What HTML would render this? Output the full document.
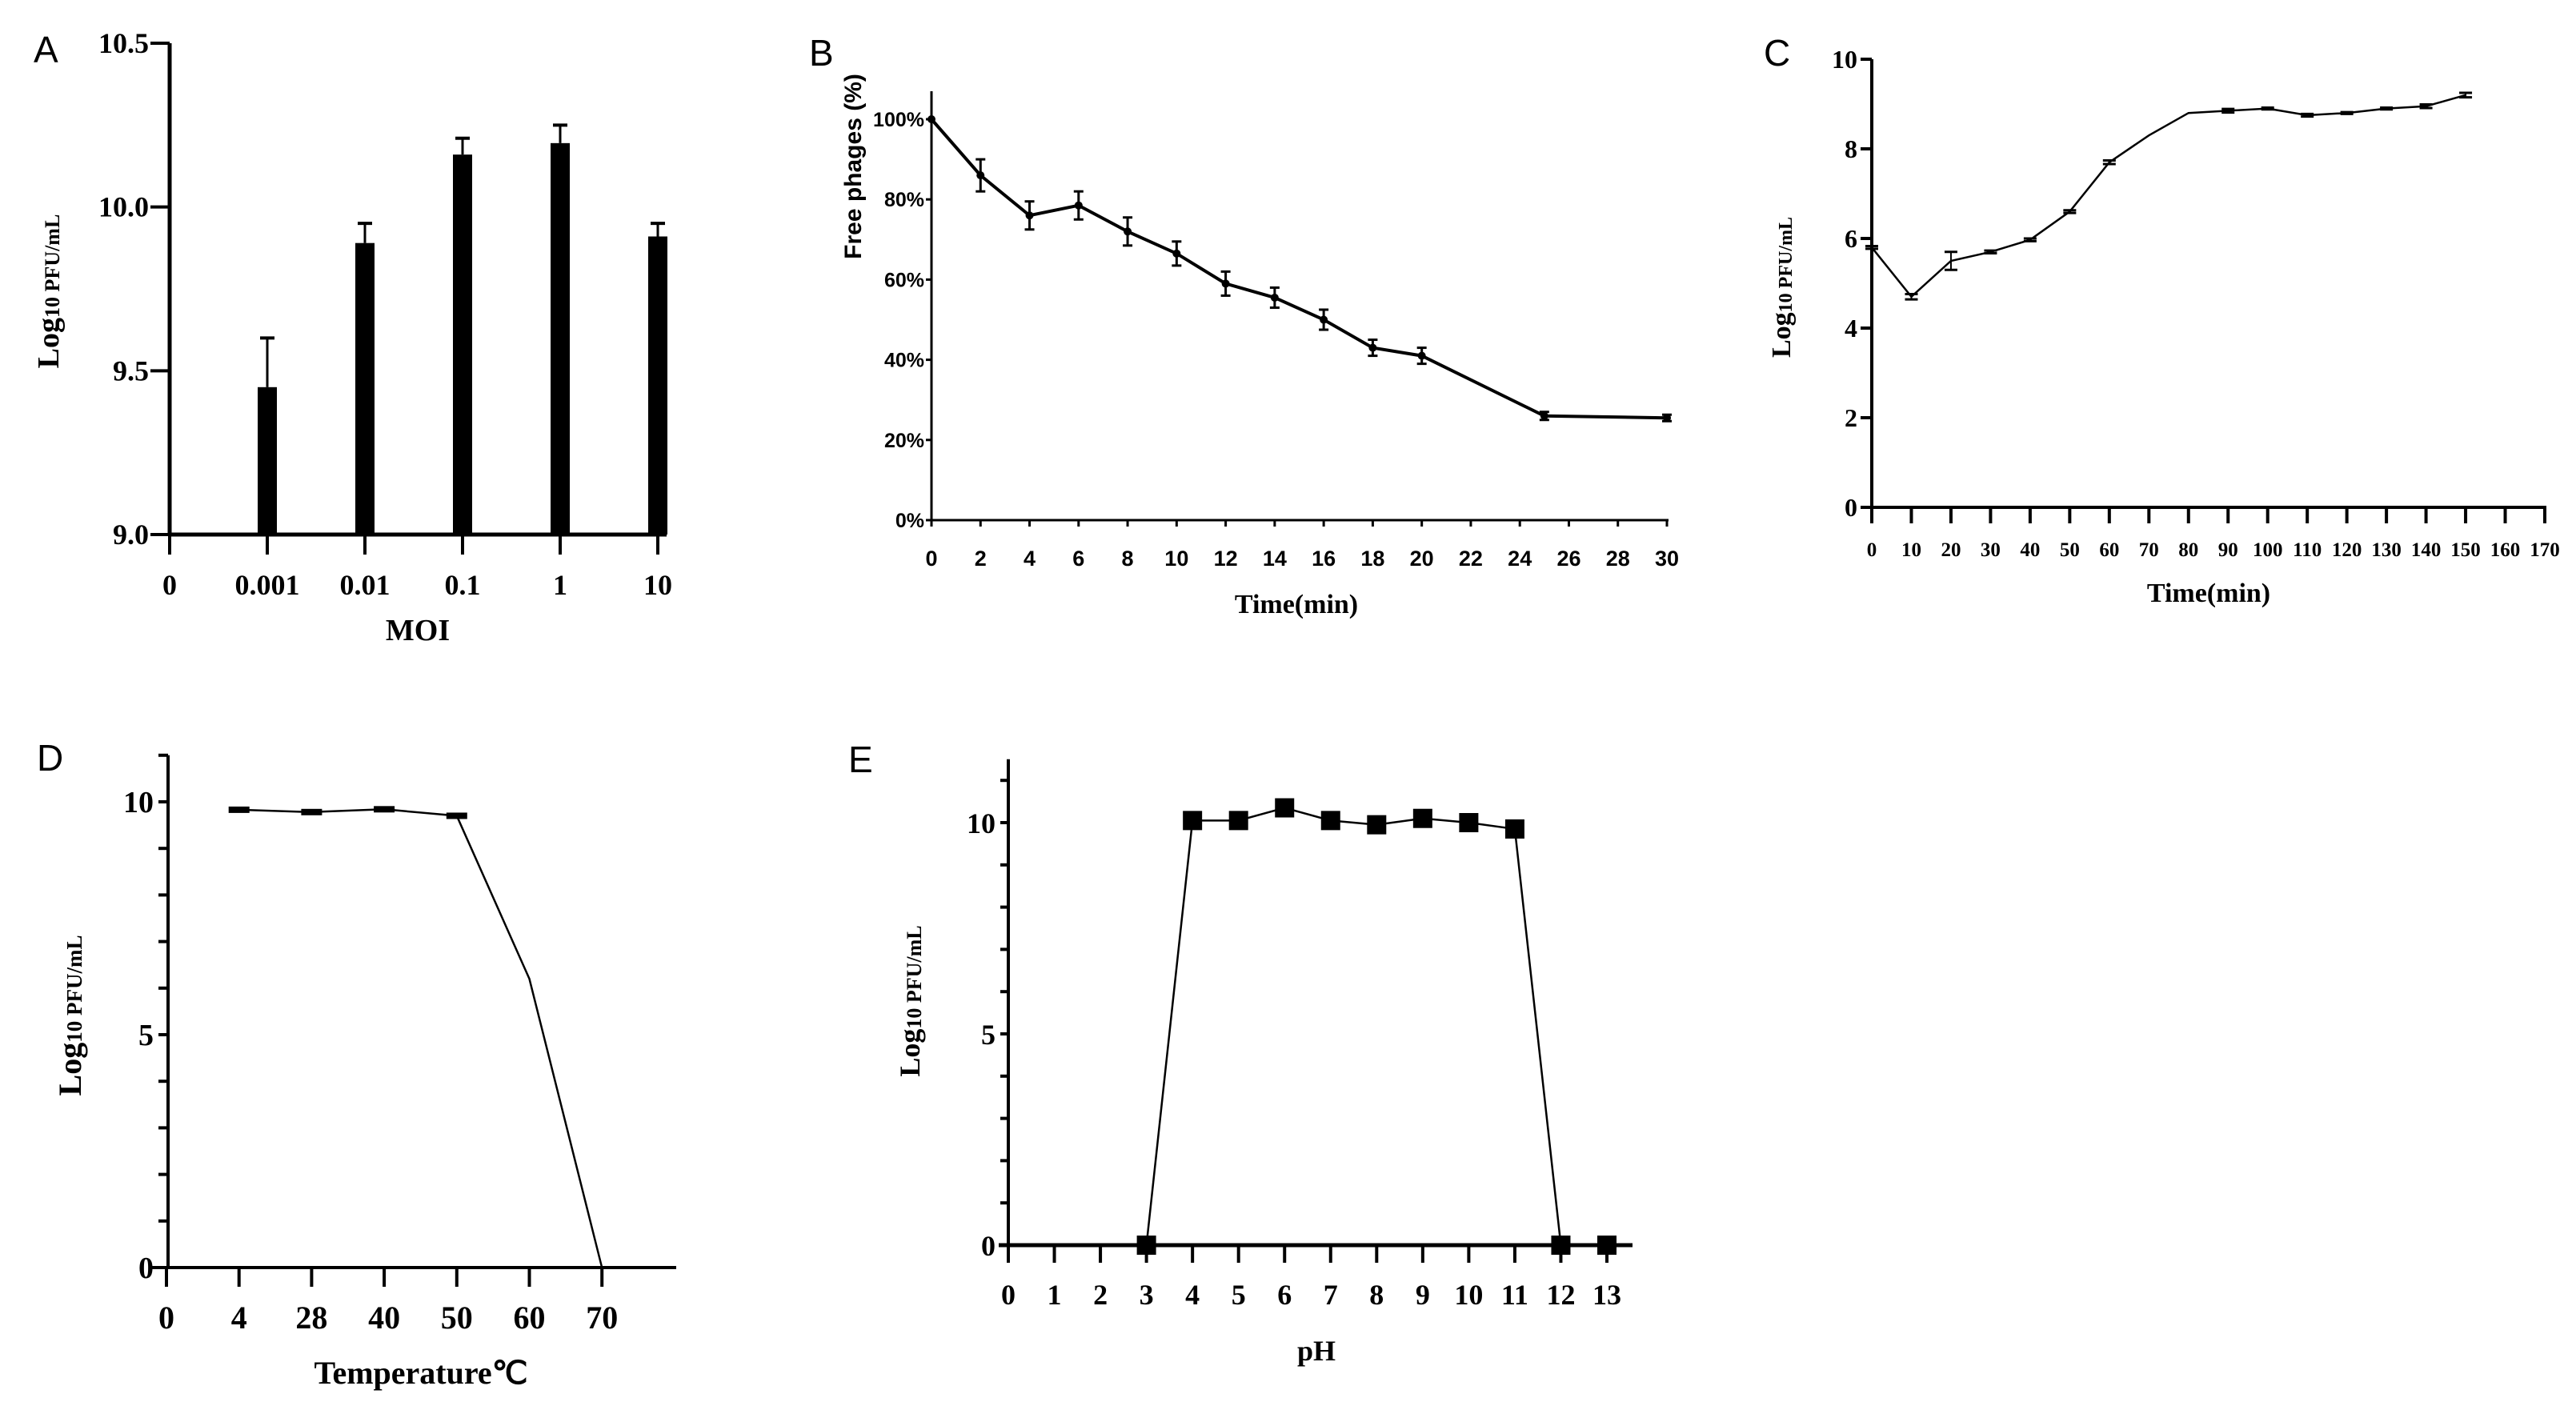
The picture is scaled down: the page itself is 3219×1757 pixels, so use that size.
<!DOCTYPE html>
<html><head><meta charset="utf-8"><style>
html,body{margin:0;padding:0;background:#fff;}
svg{display:block;}
text{font-family:"Liberation Serif",serif;font-weight:bold;fill:#000;}
.pl{font-family:"Liberation Sans",sans-serif;font-weight:normal;font-size:46px;}
.sans{font-family:"Liberation Sans",sans-serif;}
</style></head><body>
<svg id="fig" xmlns="http://www.w3.org/2000/svg" width="3219" height="1757" viewBox="0 0 3219 1757">
<text class="pl" x="42" y="78">A</text>
<text class="pl" x="1011" y="82">B</text>
<text class="pl" x="2204" y="82">C</text>
<text class="pl" x="46" y="963">D</text>
<text class="pl" x="1060" y="965">E</text>
</svg>
<script>
// ---- Panel A data
const moiCats = ["0","0.001","0.01","0.1","1","10"];
const moiVals = [null,9.45,9.89,10.16,10.195,9.91];
const moiErr = [null,0.15,0.06,0.05,0.055,0.04];
const moiTicks = [9.0,9.5,10.0,10.5];
// ---- Panel B data
const adsTime = [0,2,4,6,8,10,12,14,16,18,20,25,30];
const adsVals = [100,86,76,78.5,72,66.5,59,55.5,50,43,41,26,25.5];
const adsErr = [0,4,3.5,3.5,3.5,3,3,2.5,2.5,2,2,1,0.8];
const adsYTicks = [0,20,40,60,80,100];
const adsXTicks = [0,2,4,6,8,10,12,14,16,18,20,22,24,26,28,30];
// ---- Panel C data
const growTime = [0,10,20,30,40,50,60,70,80,90,100,110,120,130,140,150];
const growVals = [5.8,4.7,5.5,5.7,5.97,6.6,7.7,8.3,8.8,8.85,8.9,8.75,8.8,8.9,8.95,9.2];
const growErr = [0.03,0.06,0.2,0.03,0.03,0.03,0.04,0,0,0.04,0.02,0.03,0.02,0.02,0.04,0.05];
const growYTicks = [0,2,4,6,8,10];
const growXTicks = [0,10,20,30,40,50,60,70,80,90,100,110,120,130,140,150,160,170];
// ---- Panel D data
const tempCats = ["0","4","28","40","50","60","70"];
const tempVals = [null,9.83,9.78,9.84,9.7,6.2,0];
const tempYTicks = [0,5,10];
// ---- Panel E data
const phX = [3,4,5,6,7,8,9,10,11,12,13];
const phVals = [0,10.05,10.05,10.35,10.05,9.95,10.1,10.0,9.85,0,0];
const phYTicks = [0,5,10];
const phXTicks = [0,1,2,3,4,5,6,7,8,9,10,11,12,13];

const NS="http://www.w3.org/2000/svg";
const svg=document.getElementById('fig');
function mk(tag,attrs,parent){const e=document.createElementNS(NS,tag);for(const k in attrs)e.setAttribute(k,attrs[k]);(parent||svg).appendChild(e);return e;}
function ln(x1,y1,x2,y2,w){return mk('line',{x1:x1,y1:y1,x2:x2,y2:y2,stroke:'#000','stroke-width':w});}
function tx(x,y,s,size,anchor,cls){const t=mk('text',{x:x,y:y,'font-size':size,'text-anchor':anchor||'middle'});if(cls)t.setAttribute('class',cls);t.textContent=s;return t;}
function ylab(cx,cy,size,small,name){const t=mk('text',{transform:`translate(${cx},${cy}) rotate(-90)`,'text-anchor':'middle','font-size':size,'dominant-baseline':'middle'});
 
 
 const a=mk('tspan',{},t);a.textContent='Log';const b=mk('tspan',{'font-size':small,dy:4},t);b.textContent='10 PFU/mL';return t;}

// ===== Panel A
(function(){
 const x0=212,x1=833,yb=668,yt=54;
 const sy=v=>yb-(v-9)/(1.5)*(yb-yt);
 const sx=i=>212+i*122;
 let e=ln(x0,yt,x0,yb+2,5);
 
 
 moiTicks.forEach(v=>{ln(188,sy(v),x0,sy(v),4);const t=tx(186,sy(v)+12,v.toFixed(1),36,'end');
  
  });
 moiVals.forEach((v,i)=>{
  if(v!==null){
   const r=mk('rect',{x:sx(i)-12,y:sy(v),width:24,height:yb-sy(v),fill:'#000'});
   
   
   const et=sy(v+moiErr[i]);ln(sx(i),et,sx(i),sy(v),3);ln(sx(i)-9,et,sx(i)+9,et,4);
  }
  ln(sx(i),yb,sx(i),693,4);
  const t=tx(sx(i),743,moiCats[i],36);
  
  
 });
 e=ln(x0-2,yb,x1,yb,5);
 
 
 const t=tx(522,800,'MOI',38);
 
 
 ylab(64,364,38,26,'a-y-axis-title');
})();

// ===== Panel B
(function(){
 const x0=1164,x1=2083,yb=650,yt=149;
 const sy=v=>yb-v/100*(yb-yt);
 const sx=v=>x0+v/30*(x1-x0);
 let e=ln(x0,114,x0,yb,3);
 
 
 e=ln(x0,yb,x1+2,yb,3);
 
 
 adsYTicks.forEach(v=>{ln(x0-7,sy(v),x0,sy(v),3);const t=tx(x0-9,sy(v)+9,v+'%',25,'end','sans');
  
  });
 adsXTicks.forEach(v=>{ln(sx(v),yb,sx(v),yb+8,3);const t=tx(sx(v),707,String(v),27,'middle','sans');
  
  });
 const p=mk('polyline',{points:adsTime.map((t,i)=>sx(t)+','+sy(adsVals[i])).join(' '),fill:'none',stroke:'#000','stroke-width':4});
 
 
 adsTime.forEach((t,i)=>{const x=sx(t),a=sy(adsVals[i]+adsErr[i]),b=sy(adsVals[i]-adsErr[i]);
  if(adsErr[i]>0){ln(x,a,x,b,3);ln(x-6,a,x+6,a,3);ln(x-6,b,x+6,b,3);}
  const c=mk('circle',{cx:x,cy:sy(adsVals[i]),r:5,fill:'#000'});
  
  });
 let t=tx(1620,766,'Time(min)',34);
 
 
 t=mk('text',{transform:'translate(1068,208) rotate(-90)','text-anchor':'middle','font-size':30,'dominant-baseline':'middle'});
 t.setAttribute('class','sans');
 
 
 t.textContent='Free phages (%)';
})();

// ===== Panel C
(function(){
 const x0=2339,x1=3180,yb=634,yt=74;
 const sy=v=>yb-v/10*(yb-yt);
 const sx=v=>x0+v/170*(x1-x0);
 let e=ln(x0,yt,x0,yb,4);
 
 
 e=ln(x0-14,yb,x1+2,yb,4);
 
 
 growYTicks.forEach(v=>{ln(x0-14,sy(v),x0,sy(v),4);const t=tx(x0-18,sy(v)+11,String(v),32,'end');
  
  });
 growXTicks.forEach(v=>{ln(sx(v),yb,sx(v),yb+20,4);const t=tx(sx(v),695,String(v),25);
  
  });
 const p=mk('polyline',{points:growTime.map((t,i)=>sx(t)+','+sy(growVals[i])).join(' '),fill:'none',stroke:'#000','stroke-width':2.5});
 
 
 growTime.forEach((t,i)=>{const x=sx(t),a=sy(growVals[i]+growErr[i]),b=sy(growVals[i]-growErr[i]);
  if(growErr[i]>0){ln(x,a,x,b,2);ln(x-8,a,x+8,a,3);ln(x-8,b,x+8,b,3);}});
 let t=tx(2760,752,'Time(min)',34);
 
 
 ylab(2229,359,34,24,'c-y-axis-title');
})();

// ===== Panel D
(function(){
 const x0=210,x1=845,yb=1584;
 const sy=v=>yb-v/5*(1584-1293);
 const sx=i=>208+i*90.7;
 let e=ln(x0,sy(11),x0,yb,4);
 
 
 e=ln(x0-20,yb,x1,yb,4);
 
 
 for(let k=0;k<=11;k++)ln(x0-12,sy(k),x0,sy(k),4);
 tempYTicks.forEach(v=>{const t=tx(x0-18,sy(v)+13,String(v),38,'end');
  
  });
 tempCats.forEach((c,i)=>{ln(sx(i),yb,sx(i),yb+24,4);const t=tx(sx(i),1660,c,40);
  
  });
 const idx=[1,2,3,4,5,6];
 const p=mk('polyline',{points:idx.map(i=>sx(i)+','+sy(tempVals[i])).join(' '),fill:'none',stroke:'#000','stroke-width':2.5});
 
 
 [1,2,3,4].forEach(i=>{const r=mk('rect',{x:sx(i)-13,y:sy(tempVals[i])-4,width:26,height:8,fill:'#000'});
  
  });
 let t=tx(526,1729,'Temperature℃',40);
 
 
 ylab(92,1269,40,27,'d-y-axis-title');
})();

// ===== Panel E
(function(){
 const x0=1260,x1=2040,yb=1556;
 const sy=v=>yb-v/5*(1556-1292);
 const sx=v=>x0+v/13*(2008-x0);
 let e=ln(x0,sy(11.5),x0,yb,4);
 
 
 e=ln(x0-12,yb,x1,yb,5);
 
 
 for(let k=0;k<=11;k++)ln(x0-10,sy(k),x0,sy(k),4);
 phYTicks.forEach(v=>{const t=tx(x0-16,sy(v)+13,String(v),36,'end');
  
  });
 phXTicks.forEach(v=>{ln(sx(v),yb,sx(v),yb+22,4);const t=tx(sx(v),1630,String(v),36);
  
  });
 const p=mk('polyline',{points:phX.map((x,i)=>sx(x)+','+sy(phVals[i])).join(' '),fill:'none',stroke:'#000','stroke-width':2.5});
 
 
 phX.forEach((x,i)=>{const r=mk('rect',{x:sx(x)-12,y:sy(phVals[i])-12,width:24,height:24,fill:'#000'});
  
  });
 let t=tx(1645,1700,'pH',36);
 
 
 ylab(1141,1251,36,26,'e-y-axis-title');
})();
</script>
</body></html>
